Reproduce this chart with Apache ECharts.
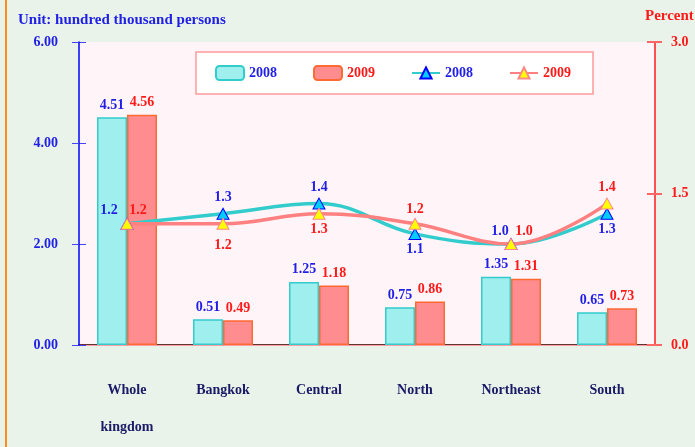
<!DOCTYPE html>
<html lang="en" style="height: 100%">

<head>
    <meta charset="utf-8" />
    <script src="https://cdn.jsdelivr.net/npm/echarts@6/dist/echarts.min.js"></script>
</head>

<body style="height: 100%; margin: 0">
    <div id="container" style="width: 695px;height: 447px;"></div>
    <script type="text/javascript">
        // data
        const categories = ['Whole\nkingdom', 'Bangkok', 'Central', 'North', 'Northeast', 'South'];
        const persons2008 = [4.51, 0.51, 1.25, 0.75, 1.35, 0.65];
        const persons2009 = [4.56, 0.49, 1.18, 0.86, 1.31, 0.73];
        const percent2008 = [1.2, 1.3, 1.4, 1.1, 1.0, 1.3];
        const percent2009 = [1.2, 1.2, 1.3, 1.2, 1.0, 1.4];
        const leftTicks = { min: 0, max: 6, interval: 2 };
        const rightTicks = { min: 0, max: 3, interval: 1.5 };

        const FONT = 'Liberation Serif';
        const BLUE = '#1f1fe6';
        const RED = '#ff1a1a';

        var dom = document.getElementById('container');
        var myChart = echarts.init(dom, null, { renderer: 'canvas' });

        // where each line label sits relative to its point
        const place2008 = [
            { position: 'top', offset: [-18, 3] }, { position: 'top' }, { position: 'top' },
            { position: 'bottom' }, { position: 'top', offset: [-11, 3] }, { position: 'bottom' }
        ];
        const place2009 = [
            { position: 'top', offset: [11, 3] }, { position: 'bottom', offset: [0, 6] }, { position: 'bottom' },
            { position: 'top', offset: [0, 2] }, { position: 'top', offset: [13, 3] }, { position: 'top' }
        ];

        function withLabels(values, places) {
            return values.map(function (v, i) {
                return { value: v, label: places[i] };
            });
        }

        const labelFont = { fontFamily: FONT, fontWeight: 'bold', fontSize: 14 };

        var option = {
            backgroundColor: '#e9f3e9',
            animation: false,
            textStyle: { fontFamily: FONT },
            title: [{
                    text: 'Unit: hundred thousand persons',
                    left: 13,
                    top: 8,
                    textStyle: { color: BLUE, fontFamily: FONT, fontWeight: 'bold', fontSize: 15 }
                },
                {
                    text: 'Percent',
                    left: 640,
                    top: 4,
                    textStyle: { color: RED, fontFamily: FONT, fontWeight: 'bold', fontSize: 15 }
                }
            ],
            graphic: [{
                    type: 'line',
                    shape: { x1: 6, y1: 0, x2: 6, y2: 447 },
                    style: { stroke: '#ff8c1a', lineWidth: 2 }
                }
            ],
            legend: {
                left: 196,
                top: 52,
                padding: [13, 22, 13, 19],
                itemWidth: 28,
                itemHeight: 14,
                itemGap: 36,
                backgroundColor: '#ffffff',
                borderColor: '#ff9999',
                borderWidth: 1.5,
                borderRadius: 0,
                formatter: function (name) { return name.slice(-4); },
                data: [
                    { name: 'bar2008', textStyle: { color: BLUE } },
                    { name: 'bar2009', textStyle: { color: RED } },
                    { name: 'line2008', textStyle: { color: BLUE } },
                    { name: 'line2009', textStyle: { color: RED } }
                ],
                textStyle: labelFont
            },
            grid: {
                left: 79,
                right: 40,
                top: 42,
                bottom: 102,
                show: true,
                backgroundColor: '#fff5f8',
                borderWidth: 0
            },
            xAxis: [{
                    type: 'category',
                    data: categories,
                    boundaryGap: true,
                    axisLine: { lineStyle: { color: '#663333', width: 2 } },
                    axisTick: { length: 8, lineStyle: { color: '#333333' } },
                    axisLabel: {
                        margin: 27,
                        lineHeight: 37,
                        color: '#1a1a66',
                        fontFamily: FONT,
                        fontWeight: 'bold',
                        fontSize: 14
                    }
                },
                {
                    type: 'category',
                    data: categories,
                    position: 'bottom',
                    boundaryGap: true,
                    axisLine: { show: false },
                    axisTick: { inside: true, length: 8, lineStyle: { color: '#333333' } },
                    axisLabel: { show: false }
                },
                {
                    // pink upper edge of the plot area
                    type: 'category',
                    data: categories,
                    position: 'top',
                    axisLine: { show: true, lineStyle: { color: '#ff9fa8', width: 1 } },
                    axisTick: { show: false },
                    axisLabel: { show: false }
                }
            ],
            yAxis: [{
                    type: 'value',
                    position: 'left',
                    min: leftTicks.min,
                    max: leftTicks.max,
                    interval: leftTicks.interval,
                    splitLine: { show: false },
                    axisLine: { show: true, onZero: false, lineStyle: { color: '#0000ff', width: 1.5, opacity: 1 } },
                    axisTick: { show: true, length: 7, lineStyle: { color: '#4444ff' } },
                    axisLabel: {
                        margin: 21,
                        color: BLUE,
                        fontFamily: FONT,
                        fontWeight: 'bold',
                        fontSize: 14,
                        formatter: function (v) { return v.toFixed(2); }
                    },
                    z: 5
                },
                {
                    type: 'value',
                    position: 'right',
                    min: rightTicks.min,
                    max: rightTicks.max,
                    interval: rightTicks.interval,
                    splitLine: { show: false },
                    axisLine: { show: true, onZero: false, lineStyle: { color: '#ff1a1a', width: 1.5 } },
                    axisTick: { show: true, length: 7, lineStyle: { color: '#ff6666', width: 2 } },
                    axisLabel: {
                        margin: 16,
                        color: RED,
                        fontFamily: FONT,
                        fontWeight: 'bold',
                        fontSize: 14,
                        formatter: function (v) { return v.toFixed(1); }
                    }
                },
                {
                    type: 'value',
                    position: 'left',
                    min: leftTicks.min,
                    max: leftTicks.max,
                    interval: leftTicks.interval,
                    splitLine: { show: false },
                    axisLine: { show: false },
                    axisTick: { show: true, inside: true, length: 7, lineStyle: { color: '#4444ff' } },
                    axisLabel: { show: false }
                },
                {
                    type: 'value',
                    position: 'right',
                    min: rightTicks.min,
                    max: rightTicks.max,
                    interval: rightTicks.interval,
                    splitLine: { show: false },
                    axisLine: { show: false },
                    axisTick: { show: true, inside: true, length: 8, lineStyle: { color: '#ff6666', width: 2 } },
                    axisLabel: { show: false }
                }
            ],
            series: [{
                    name: 'bar2008',
                    type: 'bar',
                    yAxisIndex: 0,
                    barWidth: 30,
                    barGap: '0%',
                    itemStyle: { color: '#a0efef', borderColor: '#33cccc', borderWidth: 1.5 },
                    label: Object.assign({
                        show: true,
                        position: 'top',
                        distance: 5,
                        color: BLUE,
                        formatter: function (p) { return p.value.toFixed(2); }
                    }, labelFont),
                    data: persons2008
                },
                {
                    name: 'bar2009',
                    type: 'bar',
                    yAxisIndex: 0,
                    barWidth: 30,
                    barGap: '0%',
                    itemStyle: { color: '#ff8c8f', borderColor: '#ff6a33', borderWidth: 1.5 },
                    label: Object.assign({
                        show: true,
                        position: 'top',
                        distance: 5,
                        color: RED,
                        formatter: function (p) { return p.value.toFixed(2); }
                    }, labelFont),
                    data: persons2009
                },
                {
                    name: 'line2008',
                    type: 'line',
                    yAxisIndex: 1,
                    smooth: 0.4,
                    symbol: 'triangle',
                    symbolSize: [12, 11],
                    lineStyle: { color: '#33cccc', width: 3.5 },
                    itemStyle: { color: '#00ccff', borderColor: '#0000ff', borderWidth: 1 },
                    label: Object.assign({
                        show: true,
                        distance: 3,
                        color: BLUE,
                        formatter: function (p) { return p.value.toFixed(1); }
                    }, labelFont),
                    data: withLabels(percent2008, place2008)
                },
                {
                    name: 'line2009',
                    type: 'line',
                    yAxisIndex: 1,
                    smooth: 0.4,
                    symbol: 'triangle',
                    symbolSize: [12, 11],
                    lineStyle: { color: '#ff8080', width: 3.5 },
                    itemStyle: { color: '#ffff00', borderColor: '#ff8888', borderWidth: 1 },
                    label: Object.assign({
                        show: true,
                        distance: 3,
                        color: RED,
                        formatter: function (p) { return p.value.toFixed(1); }
                    }, labelFont),
                    data: withLabels(percent2009, place2009)
                }
            ]
        };

        if (option && typeof option === 'object') {
            myChart.setOption(option);
        }

        window.addEventListener('resize', myChart.resize);
    </script>
</body>

</html>
